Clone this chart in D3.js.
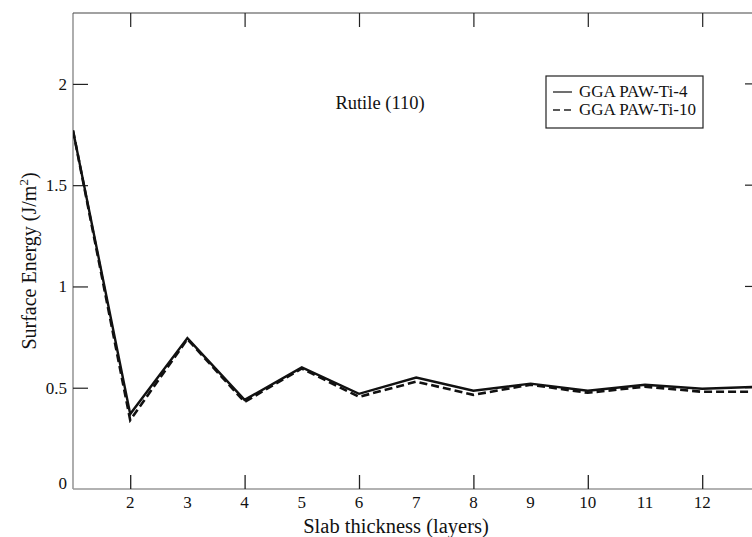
<!DOCTYPE html>
<html>
<head>
<meta charset="utf-8">
<script src="https://cdn.jsdelivr.net/npm/d3@7"></script>
<style>
  body { margin: 0; background: #fff; }
  svg { display: block; }
</style>
</head>
<body>
<div id="chart"></div>
<script>
const layers = [1, 2, 3, 4, 5, 6, 7, 8, 9, 10, 11, 12, 13]
const ti4 = [1.77, 0.37, 0.745, 0.44, 0.6, 0.47, 0.55, 0.485, 0.52, 0.485, 0.515, 0.495, 0.505]
const ti10 = [1.77, 0.34, 0.74, 0.43, 0.595, 0.455, 0.53, 0.465, 0.515, 0.475, 0.505, 0.48, 0.48]
const xLabels = [2, 3, 4, 5, 6, 7, 8, 9, 10, 11, 12]
const xTicks = [2, 4, 6, 8, 10, 12]
const yTicks = [0, 0.5, 1, 1.5, 2]
const seriesNames = ['GGA PAW-Ti-4', 'GGA PAW-Ti-10']

const width = 752
const height = 537
const mLeft = 73, mTop = 13, mBottom = 489
const serif = "'Liberation Serif', 'Times New Roman', serif"

const svg = d3.select('#chart')
  .append('svg')
  .attr('width', width)
  .attr('height', height)

const x = d3.scaleLinear().domain([1, 13]).range([mLeft, mLeft + 57.2 * 12])
const y = d3.scaleLinear().domain([0, 2.35]).range([mBottom, mTop])

// frame (right side runs off the picture)
svg.append('line')
  .attr('x1', mLeft).attr('x2', mLeft)
  .attr('y1', mTop).attr('y2', mBottom)
  .attr('stroke', '#777').attr('stroke-width', 1.2)
svg.append('line')
  .attr('x1', mLeft).attr('x2', width)
  .attr('y1', mBottom).attr('y2', mBottom)
  .attr('stroke', '#999').attr('stroke-width', 1.5)
svg.append('line')
  .attr('x1', mLeft).attr('x2', width)
  .attr('y1', mTop).attr('y2', mTop)
  .attr('stroke', '#444').attr('stroke-width', 1.2)

// bottom axis: tick marks on even layers, labels on all
const xAxis = d3.axisBottom(x).tickValues(xTicks).tickSize(-14).tickFormat('')
svg.append('g')
  .attr('transform', `translate(0,${mBottom})`)
  .call(xAxis)
  .call(g => g.select('.domain').remove())
  .call(g => g.selectAll('line').attr('stroke', '#222').attr('stroke-width', 1.3))

svg.append('g')
  .selectAll('text')
  .data(xLabels)
  .enter()
  .append('text')
  .attr('x', d => x(d))
  .attr('y', mBottom + 19)
  .attr('text-anchor', 'middle')
  .attr('font-family', serif)
  .attr('font-size', 17)
  .attr('fill', '#111')
  .text(d => d)

// top axis ticks
svg.append('g')
  .attr('transform', `translate(0,${mTop})`)
  .call(d3.axisTop(x).tickValues(xTicks).tickSize(-14).tickFormat(''))
  .call(g => g.select('.domain').remove())
  .call(g => g.selectAll('line').attr('stroke', '#222').attr('stroke-width', 1.2))

// left axis
const yAxis = d3.axisLeft(y).tickValues(yTicks).tickSize(-15).tickPadding(6)
  .tickFormat(d => d)
svg.append('g')
  .attr('transform', `translate(${mLeft},0)`)
  .call(yAxis)
  .call(g => g.select('.domain').remove())
  .call(g => g.selectAll('line').attr('stroke', '#222').attr('stroke-width', 1.2))
  .call(g => g.selectAll('line').filter(d => d === 0).remove())
  .call(g => g.selectAll('text')
    .attr('font-family', serif)
    .attr('font-size', 17)
    .attr('fill', '#111')
    .attr('dy', d => d === 0 ? '-0.05em' : '0.32em'))

// right axis ticks (axis itself sits just past the edge)
svg.append('g')
  .selectAll('line')
  .data(yTicks.filter(d => d > 0))
  .enter()
  .append('line')
  .attr('x1', width - 7).attr('x2', width)
  .attr('y1', d => y(d)).attr('y2', d => y(d))
  .attr('stroke', '#222').attr('stroke-width', 1.2)

// lines
const line = d3.line()
  .x((d, i) => x(layers[i]))
  .y(d => y(d))

svg.append('clipPath').attr('id', 'clip')
  .append('rect').attr('x', mLeft).attr('y', mTop).attr('width', width - mLeft).attr('height', mBottom - mTop)

const plot = svg.append('g').attr('clip-path', 'url(#clip)')
plot.append('path')
  .datum(ti10)
  .attr('d', line)
  .attr('fill', 'none')
  .attr('stroke', '#111')
  .attr('stroke-width', 2.6)
  .attr('stroke-dasharray', '8,4')
plot.append('path')
  .datum(ti4)
  .attr('d', line)
  .attr('fill', 'none')
  .attr('stroke', '#111')
  .attr('stroke-width', 2.4)

// annotation
svg.append('text')
  .attr('x', 380).attr('y', 109)
  .attr('text-anchor', 'middle')
  .attr('font-family', serif)
  .attr('font-size', 18.5)
  .attr('fill', '#111')
  .text('Rutile (110)')

// legend
const lg = svg.append('g').attr('transform', 'translate(546,76)')
lg.append('rect')
  .attr('width', 157).attr('height', 52)
  .attr('fill', '#fff').attr('stroke', '#222').attr('stroke-width', 1.2)
seriesNames.forEach((name, i) => {
  const yy = 16 + i * 18
  lg.append('line')
    .attr('x1', 7).attr('x2', 26)
    .attr('y1', yy).attr('y2', yy)
    .attr('stroke', '#222').attr('stroke-width', 1.3)
    .attr('stroke-dasharray', i === 1 ? '7,4' : null)
  lg.append('text')
    .attr('x', 33).attr('y', yy + 5)
    .attr('font-family', serif)
    .attr('font-size', 17)
    .attr('fill', '#111')
    .text(name)
})

// axis titles
svg.append('text')
  .attr('x', 396).attr('y', 533)
  .attr('text-anchor', 'middle')
  .attr('font-family', serif)
  .attr('font-size', 20.5)
  .attr('fill', '#111')
  .text('Slab thickness (layers)')

const yt = svg.append('text')
  .attr('transform', 'translate(36,261) rotate(-90)')
  .attr('text-anchor', 'middle')
  .attr('font-family', serif)
  .attr('font-size', 20)
  .attr('fill', '#111')
yt.append('tspan').text('Surface Energy (J/m')
yt.append('tspan').attr('font-size', 13).attr('dy', -8).text('2')
yt.append('tspan').attr('dy', 8).text(')')
</script>
</body>
</html>
